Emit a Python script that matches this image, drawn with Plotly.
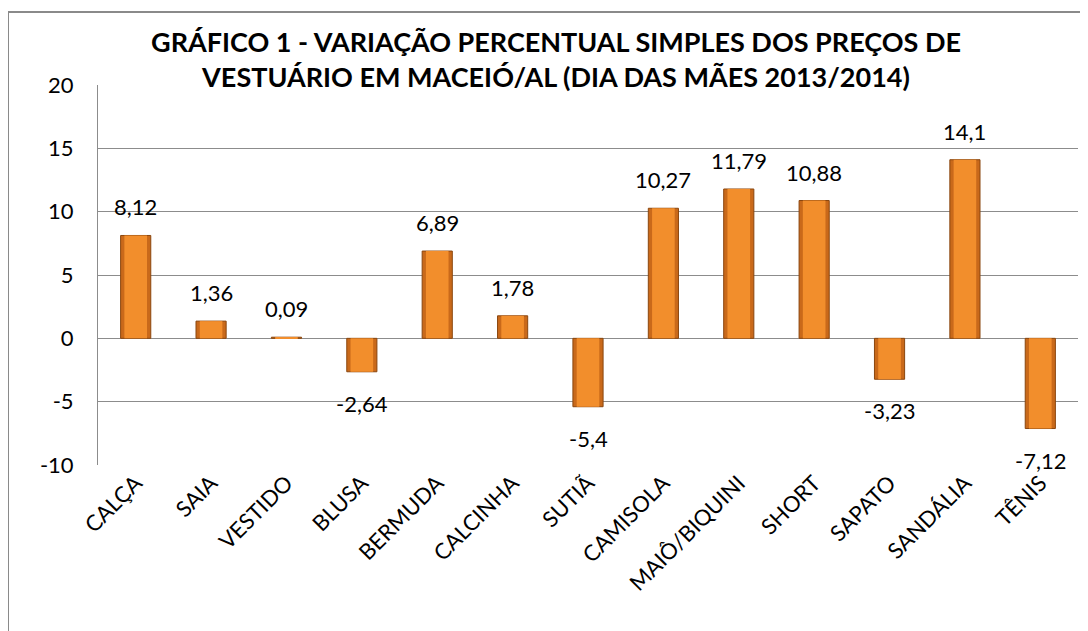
import plotly.graph_objects as go

categories = ["CALÇA", "SAIA", "VESTIDO", "BLUSA", "BERMUDA", "CALCINHA", "SUTIÃ",
              "CAMISOLA", "MAIÔ/BIQUINI", "SHORT", "SAPATO", "SANDÁLIA", "TÊNIS"]
values = [8.12, 1.36, 0.09, -2.64, 6.89, 1.78, -5.4, 10.27, 11.79, 10.88, -3.23, 14.1, -7.12]
value_labels = ["8,12", "1,36", "0,09", "-2,64", "6,89", "1,78", "-5,4",
                "10,27", "11,79", "10,88", "-3,23", "14,1", "-7,12"]
y_ticks = [-10, -5, 0, 5, 10, 15, 20]
y_tick_labels = ["-10", "-5", "0", "5", "10", "15", "20"]
title_text = ("GRÁFICO 1 - VARIAÇÃO PERCENTUAL SIMPLES DOS PREÇOS DE<br>"
              "VESTUÁRIO EM MACEIÓ/AL (DIA DAS MÃES 2013/2014)")

FONT = "Lato"
# page body has an 8px margin, so the figure starts at (8, 8) on the page
W, H = 1080, 623
ML, MR, MT, MB = 90, 10, 77, 166

fig = go.Figure()
fig.add_trace(go.Bar(x=categories, y=values, width=0.4,
                     marker=dict(color="#C9691A", line=dict(color="#8A460E", width=1)),
                     hoverinfo="skip"))
fig.add_trace(go.Bar(x=categories, y=values, width=0.3,
                     marker=dict(color="#F28E2C", line=dict(width=0)),
                     hoverinfo="skip"))

for c, v, t in zip(categories, values, value_labels):
    fig.add_annotation(x=c, y=v, text=t, showarrow=False,
                       yanchor="bottom" if v >= 0 else "top",
                       yshift=13 if v >= 0 else -16,
                       font=dict(family=FONT, size=22, color="black"))

pw = W - ML - MR
ph = H - MT - MB
bx = (0 - ML) / pw
by = 1 + (MT - 4) / ph
fig.add_shape(type="path", xref="paper", yref="paper",
              path=f"M {bx},-2 L {bx},{by} L 1.5,{by}",
              line=dict(color="#8A8A8A", width=2))

fig.update_layout(
    width=W, height=H,
    margin=dict(l=ML, r=MR, t=MT, b=MB),
    paper_bgcolor="white", plot_bgcolor="white",
    barmode="overlay", showlegend=False,
    title=dict(text=title_text, x=(556 - 8) / W, xanchor="center",
               y=1 - 44 / H, yanchor="middle",
               font=dict(family=FONT, size=27, color="black", weight="bold")),
    font=dict(family=FONT, color="black"),
)
fig.update_yaxes(range=[-10, 20], tickvals=y_ticks, ticktext=y_tick_labels,
                 showgrid=True, gridcolor="#8C8C8C", gridwidth=1,
                 zeroline=False, showline=True, linecolor="#8C8C8C", linewidth=1,
                 ticks="", ticklabelstandoff=19,
                 tickfont=dict(family=FONT, size=22, color="black"))
fig.update_xaxes(tickangle=-45, showgrid=False, showline=False, ticks="",
                 tickfont=dict(family=FONT, size=22, color="black"))

fig.write_html("out.html")
